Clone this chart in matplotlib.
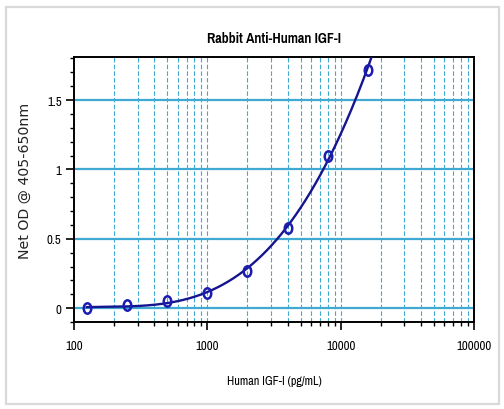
import numpy as np
import matplotlib
matplotlib.use("Agg")
import matplotlib.pyplot as plt
from matplotlib.markers import MarkerStyle
from matplotlib.transforms import Affine2D
from matplotlib.ticker import LogLocator, FixedLocator, MultipleLocator, NullFormatter
from matplotlib.patches import Rectangle

# Data
conc = [125, 250, 500, 1000, 2000, 4000, 8000, 16000]
od = [0.0, 0.02, 0.05, 0.11, 0.27, 0.58, 1.10, 1.72]
x_ticks = [100, 1000, 10000, 100000]
x_tick_labels = ["100", "1000", "10000", "100000"]
y_ticks = [0, 0.5, 1, 1.5]
y_tick_labels = ["0", "0.5", "1", "1.5"]

title = "Rabbit Anti-Human IGF-I"
xlabel = "Human IGF-I (pg/mL)"
ylabel = "Net OD @ 405-650nm"

narrow = ["Pragati Narrow", "Archivo Narrow", "PT Sans Narrow", "Liberation Sans", "DejaVu Sans"]
plt.rcParams['font.family'] = narrow

fig = plt.figure(figsize=(5.04, 4.10), dpi=100)
fig.patches.append(Rectangle((0.011, 0.012), 0.98, 0.968, transform=fig.transFigure,
                             fill=False, edgecolor="#d9d9d9", linewidth=1.6, zorder=0))
ax = fig.add_axes([0.1468, 0.2122, 0.7937, 0.6463])

ax.set_xscale("log")
ax.set_xlim(100, 100000)
ax.set_ylim(-0.1, 1.81)

grid_blue = "#3fa9d2"
# vertical dashed gridlines at all decade subdivisions
vlines = [m * 10 ** e for e in (2, 3, 4) for m in range(1, 10)]
for v in vlines[1:]:
    ax.axvline(v, color=grid_blue, lw=0.8, ls=(0, (4, 2)), zorder=1)
for h in y_ticks:
    ax.axhline(h, color=grid_blue, lw=1.6, zorder=1)

# fitted curve (regression on log concentration)
lx = np.log10(conc)
coef = np.polyfit(lx, od, 3)
xs = np.linspace(lx[0], np.log10(19000), 300)
ax.plot(10 ** xs, np.polyval(coef, xs), color="#15158f", lw=1.7, zorder=3)

mk = MarkerStyle("o", transform=Affine2D().scale(0.72, 1.0))
ax.plot(conc, od, ls="none", marker=mk, markersize=7.5, markerfacecolor="none",
        markeredgecolor="#1c1cb0", markeredgewidth=1.8, zorder=4)

ax.xaxis.set_major_locator(FixedLocator(x_ticks))
ax.set_xticklabels(x_tick_labels)
ax.xaxis.set_minor_locator(LogLocator(base=10, subs=np.arange(2, 10)))
ax.xaxis.set_minor_formatter(NullFormatter())
ax.yaxis.set_major_locator(FixedLocator(y_ticks))
ax.set_yticklabels(y_tick_labels)
ax.yaxis.set_minor_locator(MultipleLocator(0.1))

ax.tick_params(axis="both", which="major", direction="out", length=6, width=1.2,
               labelsize=10, colors="black", pad=3)
ax.tick_params(axis="both", which="minor", direction="out", length=3, width=1.0)
ax.tick_params(axis="x", which="major", pad=7)
for s in ax.spines.values():
    s.set_linewidth(1.4)
    s.set_color("black")

ax.set_title(title, fontsize=11, fontweight="bold", pad=11)
ax.set_xlabel(xlabel, fontsize=9.5, labelpad=17)
ax.set_ylabel(ylabel, fontsize=10.2, family=["DejaVu Sans"], color="#222222")
ax.yaxis.set_label_coords(-0.105, 0.535)

fig.savefig("out.png", dpi=100)
